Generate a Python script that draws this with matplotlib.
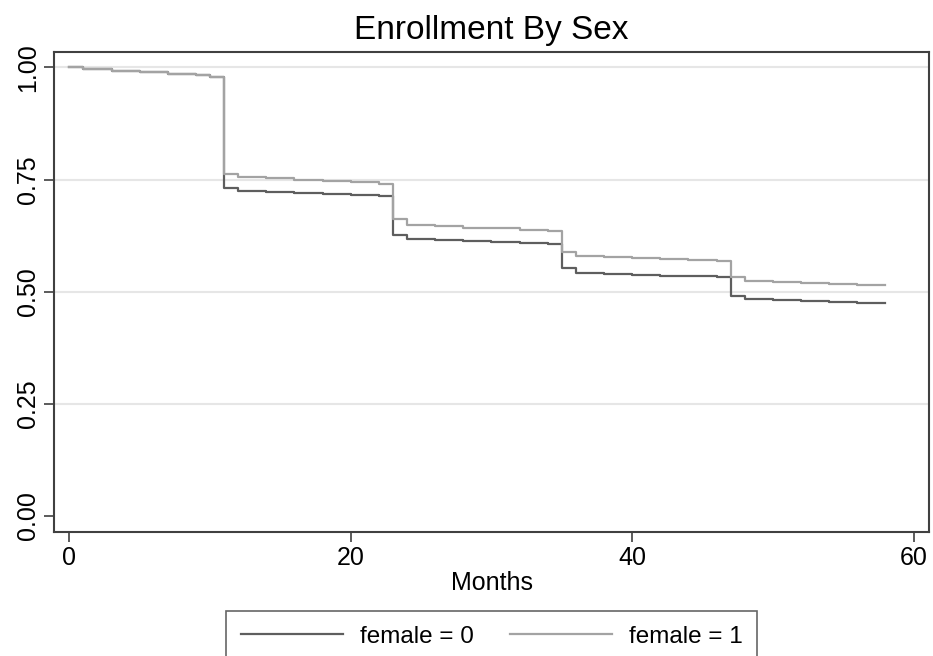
import numpy as np
import matplotlib.pyplot as plt

plt.rcParams['font.family'] = ['Liberation Sans', 'DejaVu Sans']

# step times (months) and estimated survival for each group
months_f0 = [0, 1, 3, 5, 7, 9, 10, 11, 12, 14, 16, 18, 20, 22, 23, 24, 26, 28, 30, 32, 34,
             35, 36, 38, 40, 42, 44, 46, 47, 48, 50, 52, 54, 56, 58]
surv_f0 = [1.0, 0.997, 0.993, 0.990, 0.986, 0.982, 0.979, 0.732, 0.725, 0.722, 0.720, 0.717,
           0.715, 0.713, 0.626, 0.618, 0.616, 0.613, 0.611, 0.609, 0.606, 0.552, 0.541, 0.539,
           0.537, 0.535, 0.534, 0.532, 0.490, 0.483, 0.481, 0.479, 0.477, 0.474, 0.474]

months_f1 = [0, 1, 3, 5, 7, 9, 10, 11, 12, 14, 16, 18, 20, 22, 23, 24, 26, 28, 30, 32, 34,
             35, 36, 38, 40, 42, 44, 46, 47, 48, 50, 52, 54, 56, 58]
surv_f1 = [1.0, 0.997, 0.993, 0.990, 0.986, 0.982, 0.979, 0.763, 0.756, 0.753, 0.750, 0.747,
           0.745, 0.741, 0.661, 0.648, 0.646, 0.643, 0.641, 0.638, 0.635, 0.589, 0.579, 0.577,
           0.575, 0.573, 0.571, 0.568, 0.532, 0.523, 0.521, 0.519, 0.517, 0.514, 0.514]

yticks = [0.0, 0.25, 0.5, 0.75, 1.0]
xticks = [0, 20, 40, 60]

fig = plt.figure(figsize=(9.33, 6.56), dpi=100)
ax = fig.add_axes([0.0582, 0.1895, 0.9375, 0.7317])

for y in yticks[1:]:
    ax.axhline(y, color='#e6e6e6', lw=1.5, zorder=0)

ax.step(months_f0, surv_f0, where='post', color='#5e5e5e', lw=1.6, label='female = 0')
ax.step(months_f1, surv_f1, where='post', color='#a3a3a3', lw=1.6, label='female = 1')

ax.set_xlim(-1.07, 61.1)
ax.set_ylim(-0.035, 1.035)
ax.set_xticks(xticks)
ax.set_yticks(yticks)
ax.set_yticklabels(['%.2f' % v for v in yticks], rotation=90, va='center')
ax.tick_params(direction='out', length=7, width=1.2, color='#404040', labelsize=18, pad=3)
for s in ax.spines.values():
    s.set_color('#404040')
    s.set_linewidth(1.5)

ax.set_xlabel('Months', fontsize=18, labelpad=1)
ax.set_title('Enrollment By Sex', fontsize=24, pad=9)

leg = fig.legend(loc='upper center', bbox_to_anchor=(0.527, 0.068), ncol=2, fontsize=17.5,
                 frameon=True, fancybox=False, edgecolor='#404040', handlelength=4.2,
                 handletextpad=0.7, columnspacing=1.5, borderpad=0.6, borderaxespad=0)
leg.get_frame().set_linewidth(1.2)

fig.savefig('out.png', dpi=100)
